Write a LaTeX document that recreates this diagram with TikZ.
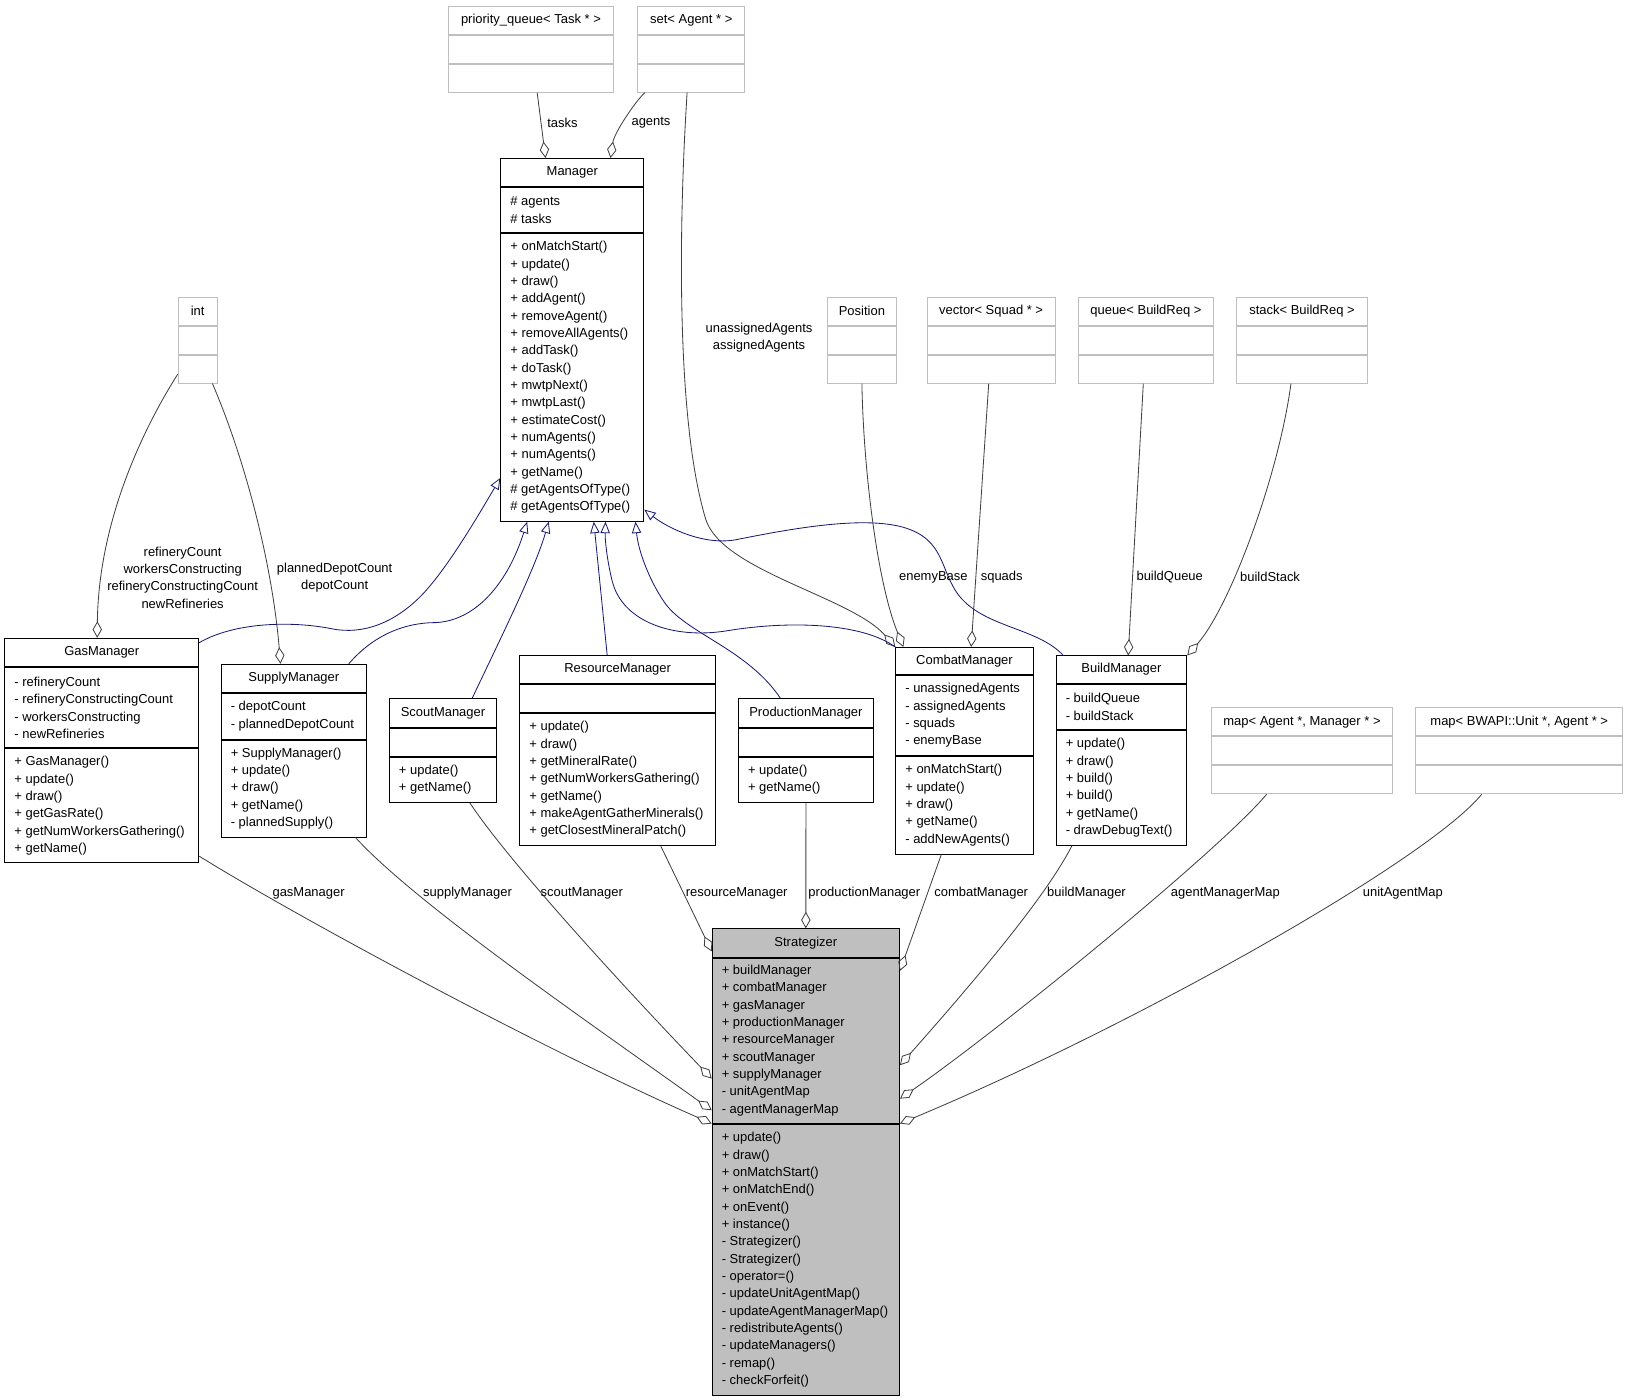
\documentclass[tikz,border=0pt]{standalone}
\usepackage{fontspec}
\setmainfont{Liberation Sans}
\usetikzlibrary{arrows.meta,calc}

\definecolor{boxgray}{HTML}{BFBFBF}
\definecolor{edgegray}{HTML}{404040}
\definecolor{inhblue}{HTML}{191970}
\newcommand\umlfont{\fontsize{12.5}{16.7}\selectfont}

\tikzset{
  cbox/.style={rectangle, draw=black, fill=white, line width=0.9pt,
               inner sep=0pt, anchor=north west, font=\umlfont},
  tbox/.style={cbox, draw=boxgray},
  sbox/.style={cbox, fill=boxgray},
  txt/.style={inner sep=0pt, anchor=west, align=left, font=\umlfont},
  lbl/.style={inner sep=0pt, align=center, font=\umlfont},
  agg/.style={draw=edgegray, line width=0.8pt,
              -{Diamond[open, length=16pt, width=9pt]}},
  inh/.style={draw=inhblue, line width=0.8pt,
              -{Triangle[open, length=11pt, width=9pt]}}
}

\begin{document}
\begin{tikzpicture}[x=1pt, y=-1pt]

    \useasboundingbox (0,0) rectangle (1568,1349);

    % member types
    \node[tbox, minimum width=159.5, minimum height=27] (pq) at (431.5,5.6) {priority\_queue< Task * >};
    \node[tbox, minimum width=159.5, minimum height=27] (pq2) at (pq.south west) {};
    \node[tbox, minimum width=159.5, minimum height=27] (pq3) at (pq2.south west) {};

    \node[tbox, minimum width=103.1, minimum height=27] (aset) at (614.2,5.6) {set< Agent * >};
    \node[tbox, minimum width=103.1, minimum height=27] (aset2) at (aset.south west) {};
    \node[tbox, minimum width=103.1, minimum height=27] (aset3) at (aset2.south west) {};

    \node[tbox, minimum width=37.6, minimum height=27] (int) at (171.2,286) {int};
    \node[tbox, minimum width=37.6, minimum height=27] (int2) at (int.south west) {};
    \node[tbox, minimum width=37.6, minimum height=27] (int3) at (int2.south west) {};

    \node[tbox, minimum width=67, minimum height=27] (pos) at (796.7,286) {Position};
    \node[tbox, minimum width=67, minimum height=27] (pos2) at (pos.south west) {};
    \node[tbox, minimum width=67, minimum height=27] (pos3) at (pos2.south west) {};

    \node[tbox, minimum width=123.5, minimum height=27] (vec) at (893,286) {vector< Squad * >};
    \node[tbox, minimum width=123.5, minimum height=27] (vec2) at (vec.south west) {};
    \node[tbox, minimum width=123.5, minimum height=27] (vec3) at (vec2.south west) {};

    \node[tbox, minimum width=129.8, minimum height=27] (que) at (1039,286) {queue< BuildReq >};
    \node[tbox, minimum width=129.8, minimum height=27] (que2) at (que.south west) {};
    \node[tbox, minimum width=129.8, minimum height=27] (que3) at (que2.south west) {};

    \node[tbox, minimum width=125.9, minimum height=27] (stk) at (1191.4,286) {stack< BuildReq >};
    \node[tbox, minimum width=125.9, minimum height=27] (stk2) at (stk.south west) {};
    \node[tbox, minimum width=125.9, minimum height=27] (stk3) at (stk2.south west) {};

    \node[tbox, minimum width=174.9, minimum height=27] (amap) at (1166.9,681.8) {map< Agent *, Manager * >};
    \node[tbox, minimum width=174.9, minimum height=27] (amap2) at (amap.south west) {};
    \node[tbox, minimum width=174.9, minimum height=27] (amap3) at (amap2.south west) {};

    \node[tbox, minimum width=199.4, minimum height=27] (umap) at (1364,681.8) {map< BWAPI::Unit *, Agent * >};
    \node[tbox, minimum width=199.4, minimum height=27] (umap2) at (umap.south west) {};
    \node[tbox, minimum width=199.4, minimum height=27] (umap3) at (umap2.south west) {};

    % Manager
    \node[cbox, minimum width=137.8, minimum height=27] (mgr) at (482.2,152.3) {Manager};
    \node[cbox, minimum width=137.8, minimum height=43.8] (mgr2) at (mgr.south west) {};
    \node[txt] (mgr2-t) at ([xshift=9.5pt]mgr2.west) {\# agents\\\# tasks};
    \node[cbox, minimum width=137.8, minimum height=277] (mgr3) at (mgr2.south west) {};
    \node[txt] (mgr3-t) at ([xshift=9.5pt]mgr3.west) {+ onMatchStart()\\+ update()\\+ draw()\\+ addAgent()\\+ removeAgent()\\+ removeAllAgents()\\+ addTask()\\+ doTask()\\+ mwtpNext()\\+ mwtpLast()\\+ estimateCost()\\+ numAgents()\\+ numAgents()\\+ getName()\\\# getAgentsOfType()\\\# getAgentsOfType()};

    % GasManager
    \node[cbox, minimum width=186.9, minimum height=27.5] (gas) at (4.2,614.7) {GasManager};
    \node[cbox, minimum width=186.9, minimum height=77] (gas2) at (gas.south west) {};
    \node[txt] (gas2-t) at ([xshift=9.5pt]gas2.west) {- refineryCount\\- refineryConstructingCount\\- workersConstructing\\- newRefineries};
    \node[cbox, minimum width=186.9, minimum height=110.1] (gas3) at (gas2.south west) {};
    \node[txt] (gas3-t) at ([xshift=9.5pt]gas3.west) {+ GasManager()\\+ update()\\+ draw()\\+ getGasRate()\\+ getNumWorkersGathering()\\+ getName()};

    % SupplyManager
    \node[cbox, minimum width=140, minimum height=27.3] (sup) at (212.7,639.7) {SupplyManager};
    \node[cbox, minimum width=140, minimum height=43.9] (sup2) at (sup.south west) {};
    \node[txt] (sup2-t) at ([xshift=9.5pt]sup2.west) {- depotCount\\- plannedDepotCount};
    \node[cbox, minimum width=140, minimum height=93.5] (sup3) at (sup2.south west) {};
    \node[txt] (sup3-t) at ([xshift=9.5pt]sup3.west) {+ SupplyManager()\\+ update()\\+ draw()\\+ getName()\\- plannedSupply()};

    % ScoutManager
    \node[cbox, minimum width=103.4, minimum height=27.3] (sct) at (374.8,673) {ScoutManager};
    \node[cbox, minimum width=103.4, minimum height=27.4] (sct2) at (sct.south west) {};
    \node[cbox, minimum width=103.4, minimum height=43.3] (sct3) at (sct2.south west) {};
    \node[txt] (sct3-t) at ([xshift=9.5pt]sct3.west) {+ update()\\+ getName()};

    % ResourceManager
    \node[cbox, minimum width=188.6, minimum height=26.6] (res) at (500.5,631.3) {ResourceManager};
    \node[cbox, minimum width=188.6, minimum height=27.3] (res2) at (res.south west) {};
    \node[cbox, minimum width=188.6, minimum height=127.6] (res3) at (res2.south west) {};
    \node[txt] (res3-t) at ([xshift=9.5pt]res3.west) {+ update()\\+ draw()\\+ getMineralRate()\\+ getNumWorkersGathering()\\+ getName()\\+ makeAgentGatherMinerals()\\+ getClosestMineralPatch()};

    % ProductionManager
    \node[cbox, minimum width=130.1, minimum height=27.3] (prd) at (711.2,673) {ProductionManager};
    \node[cbox, minimum width=130.1, minimum height=27.4] (prd2) at (prd.south west) {};
    \node[cbox, minimum width=130.1, minimum height=43.3] (prd3) at (prd2.south west) {};
    \node[txt] (prd3-t) at ([xshift=9.5pt]prd3.west) {+ update()\\+ getName()};

    % CombatManager
    \node[cbox, minimum width=132.5, minimum height=25.8] (cmb) at (862.8,623.5) {CombatManager};
    \node[cbox, minimum width=132.5, minimum height=77.5] (cmb2) at (cmb.south west) {};
    \node[txt] (cmb2-t) at ([xshift=9.5pt]cmb2.west) {- unassignedAgents\\- assignedAgents\\- squads\\- enemyBase};
    \node[cbox, minimum width=132.5, minimum height=94] (cmb3) at (cmb2.south west) {};
    \node[txt] (cmb3-t) at ([xshift=9.5pt]cmb3.west) {+ onMatchStart()\\+ update()\\+ draw()\\+ getName()\\- addNewAgents()};

    % BuildManager
    \node[cbox, minimum width=125.9, minimum height=26.2] (bld) at (1017.4,631.7) {BuildManager};
    \node[cbox, minimum width=125.9, minimum height=43.7] (bld2) at (bld.south west) {};
    \node[txt] (bld2-t) at ([xshift=9.5pt]bld2.west) {- buildQueue\\- buildStack};
    \node[cbox, minimum width=125.9, minimum height=110.8] (bld3) at (bld2.south west) {};
    \node[txt] (bld3-t) at ([xshift=9.5pt]bld3.west) {+ update()\\+ draw()\\+ build()\\+ build()\\+ getName()\\- drawDebugText()};

    % Strategizer
    \node[sbox, minimum width=180.5, minimum height=27.3] (str) at (685.9,894.7) {Strategizer};
    \node[sbox, minimum width=180.5, minimum height=159] (str2) at (str.south west) {};
    \node[txt] (str2-t) at ([xshift=9.5pt]str2.west) {+ buildManager\\+ combatManager\\+ gasManager\\+ productionManager\\+ resourceManager\\+ scoutManager\\+ supplyManager\\- unitAgentMap\\- agentManagerMap};
    \node[sbox, minimum width=180.5, minimum height=261.8] (str3) at (str2.south west) {};
    \node[txt] (str3-t) at ([xshift=9.5pt]str3.west) {+ update()\\+ draw()\\+ onMatchStart()\\+ onMatchEnd()\\+ onEvent()\\+ instance()\\- Strategizer()\\- Strategizer()\\- operator=()\\- updateUnitAgentMap()\\- updateAgentManagerMap()\\- redistributeAgents()\\- updateManagers()\\- remap()\\- checkForfeit()};

    % members of Manager
    \draw[agg] ($(pq3.south)+(6,0)$) -- ($(mgr.north)+(-25.8,0)$);
    \draw[agg] ($(aset3.south)+(-44.75,0)$) .. controls (612,98) and (592,128) .. ($(mgr.north)+(36.8,0)$);
    \draw[agg] ($(aset3.south)+(-4,0)$) .. controls (655,200) and (650,400) .. (680,500)
                 .. controls (695,550) and (820,575) .. (cmb.north west);
    \draw[agg] (pos3.south) .. controls (832,450) and (845,560) .. ($(cmb.north west)+(7.8,0)$);
    \draw[agg] ($(vec3.south)+(-2.35,0)$) -- ($(cmb.north)+(6.45,0)$);
    \draw[agg] ($(que3.south)+(-2.5,0)$) -- ($(bld.north)+(6.45,0)$);
    \draw[agg] ($(stk3.south)+(-10.65,0)$) .. controls (1232,460) and (1185,585) .. (bld.north east);
    \draw[agg] ($(int3.west)+(0,5)$) .. controls (140,410) and (95,500) .. ($(gas.north)+(-4.45,0)$);
    \draw[agg] ($(int3.south)+(14.3,0)$) .. controls (235,440) and (262,540) .. ($(sup.north)+(-12.8,0)$);

    % inheritance
    \draw[inh] ($(gas.north east)+(0,4.7)$) .. controls (225,600) and (280,598) .. (320,606)
                 .. controls (350,612) and (380,600) .. (405,575)
                 .. controls (430,550) and (462,495) .. ($(mgr3.south west)+(0,-42.2)$);
    \draw[inh] ($(sup.north)+(53,0)$) .. controls (360,612) and (390,600) .. (420,600)
                 .. controls (460,598) and (490,560) .. ($(mgr3.south)+(-43.5,0)$);
    \draw[inh] ($(sct.north)+(28.1,0)$) .. controls (480,620) and (515,550) .. ($(mgr3.south)+(-22.7,0)$);
    \draw[inh] ($(res.north)+(-10.1,0)$) -- ($(mgr3.south)+(20.7,0)$);
    \draw[inh] ($(prd.north)+(-24.55,0)$) .. controls (720,625) and (660,610) .. (640,580)
                 .. controls (625,558) and (615,530) .. ($(mgr3.south)+(60.9,0)$);
    \draw[inh] (cmb.north west) .. controls (830,600) and (760,598) .. (700,608)
                 .. controls (650,616) and (600,600) .. (590,560)
                 .. controls (585,540) and (583,520) .. ($(mgr3.south)+(32,0)$);
    \draw[inh] ($(bld.north west)+(7.4,0)$) .. controls (1000,605) and (950,605) .. (925,575)
                 .. controls (905,550) and (912,520) .. (870,508)
                 .. controls (830,497) and (760,510) .. (710,520)
                 .. controls (680,526) and (645,510) .. ($(mgr3.south east)+(0,-11.7)$);

    % members of Strategizer
    \draw[agg] ($(gas3.south east)+(0,-6.9)$) .. controls (280,880) and (520,1010) .. (str3.north west);
    \draw[agg] ($(sup3.south)+(59.4,0)$) .. controls (400,870) and (560,980) .. ($(str3.north west)+(0,-12.8)$);
    \draw[agg] ($(sct3.south)+(25.8,0)$) .. controls (490,830) and (600,950) .. ($(str3.north west)+(0,-43.3)$);
    \draw[agg] ($(res3.south)+(41.6,0)$) -- ($(str.south west)+(0,-6)$);
    \draw[agg] (prd3.south) -- (str.north);
    \draw[agg] ($(cmb3.south)+(-22.35,0)$) -- ($(str2.north east)+(0,12.8)$);
    \draw[agg] ($(bld3.south)+(-47.75,0)$) .. controls (1015,850) and (975,905) .. ($(str2.south east)+(0,-56.2)$);
    \draw[agg] ($(amap3.south)+(-34.15,0)$) .. controls (1175,820) and (960,995) .. ($(str2.south east)+(0,-24)$);
    \draw[agg] ($(umap3.south)+(-36.2,0)$) .. controls (1375,830) and (1090,990) .. (str3.north east);

    % edge labels
    \node[lbl] (l-tasks) at (542,118) {tasks};
    \node[lbl] (l-agents) at (627.4,118.3) {agents};
    \node[lbl] (l-assigned) at (731.5,325.3) {unassignedAgents\\assignedAgents};
    \node[lbl] (l-enemy) at (899.5,556.4) {enemyBase};
    \node[lbl] (l-squads) at (965.4,556.4) {squads};
    \node[lbl] (l-bqueue) at (1127.3,556.4) {buildQueue};
    \node[lbl] (l-bstack) at (1224,556.4) {buildStack};
    \node[lbl] (l-gasint) at (176,556.7) {refineryCount\\workersConstructing\\refineryConstructingCount\\newRefineries};
    \node[lbl] (l-supint) at (322.5,556.5) {plannedDepotCount\\depotCount};
    \node[lbl] (l-gas) at (297.4,861) {gasManager};
    \node[lbl] (l-sup) at (450.6,861) {supplyManager};
    \node[lbl] (l-sct) at (560.7,861) {scoutManager};
    \node[lbl] (l-res) at (710,861) {resourceManager};
    \node[lbl] (l-prd) at (833,861) {productionManager};
    \node[lbl] (l-cmb) at (945.6,861) {combatManager};
    \node[lbl] (l-bld) at (1047.1,861) {buildManager};
    \node[lbl] (l-amap) at (1180.9,861) {agentManagerMap};
    \node[lbl] (l-umap) at (1352,861) {unitAgentMap};

\end{tikzpicture}
\end{document}
